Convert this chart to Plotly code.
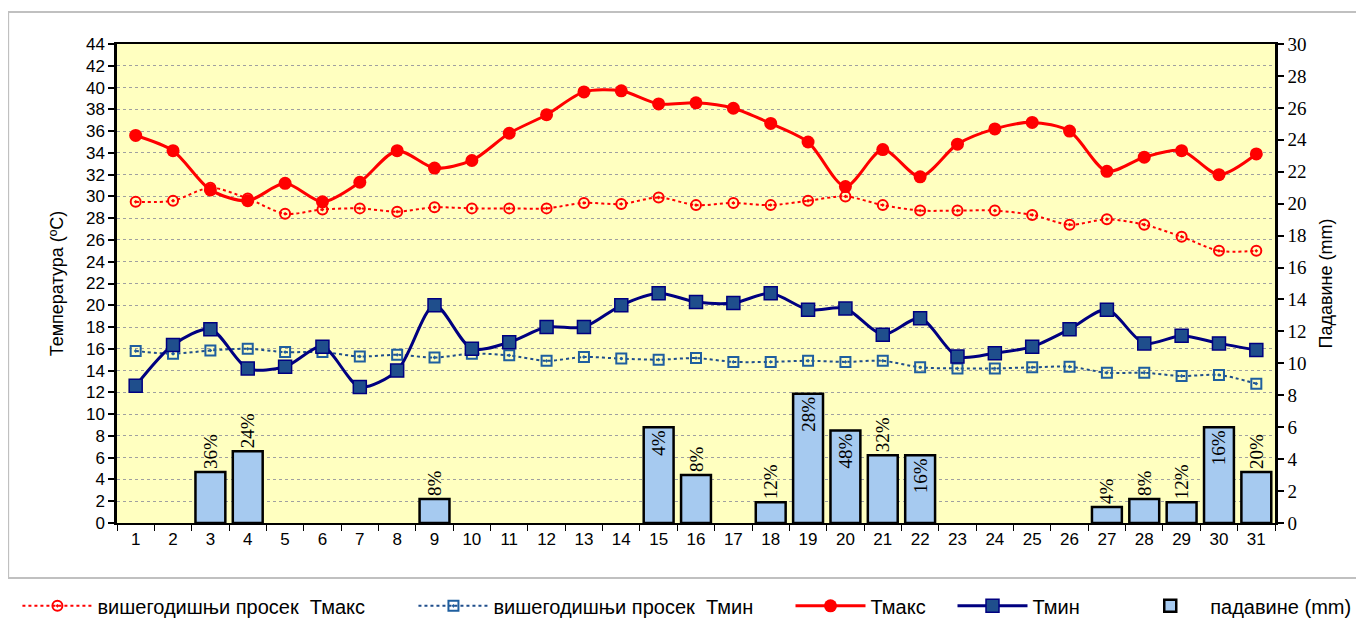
import plotly.graph_objects as go

days = [str(d) for d in range(1, 32)]

tmax = [35.6, 34.2, 30.6, 29.6, 31.2, 29.5, 31.3, 34.2, 32.6, 33.3, 35.8, 37.5, 39.6, 39.7, 38.5, 38.6,
        38.1, 36.7, 35.0, 30.9, 34.3, 31.8, 34.8, 36.2, 36.8, 36.0, 32.3, 33.6, 34.2, 32.0, 33.9]
tmin = [12.6, 16.35, 17.8, 14.2, 14.35, 16.2, 12.5, 14.0, 20.0, 16.0, 16.6, 18.0, 18.0, 20.0, 21.1, 20.3,
        20.2, 21.1, 19.6, 19.7, 17.3, 18.8, 15.3, 15.6, 16.2, 17.8, 19.6, 16.5, 17.2, 16.5, 15.9]
avg_tmax = [29.5, 29.6, 30.8, 29.8, 28.4, 28.8, 28.9, 28.6, 29.0, 28.9, 28.9, 28.9, 29.4, 29.3, 29.9, 29.2,
            29.4, 29.2, 29.6, 30.0, 29.2, 28.7, 28.7, 28.7, 28.3, 27.4, 27.9, 27.4, 26.3, 25.0, 25.0]
avg_tmin = [15.8, 15.55, 15.85, 16.0, 15.7, 15.7, 15.3, 15.45, 15.2, 15.55, 15.4, 14.9, 15.25, 15.1, 15.0, 15.15,
            14.8, 14.8, 14.9, 14.8, 14.9, 14.3, 14.2, 14.2, 14.3, 14.35, 13.8, 13.8, 13.5, 13.6, 12.8]
precip = [0, 0, 3.2, 4.5, 0, 0, 0, 0, 1.5, 0, 0, 0, 0, 0, 6.0, 3.0,
          0, 1.3, 8.1, 5.8, 4.25, 4.25, 0, 0, 0, 0, 1.0, 1.5, 1.3, 6.0, 3.2]
precip_pct = ["", "", "36%", "24%", "", "", "", "", "8%", "", "", "", "", "", "4%", "8%",
              "", "12%", "28%", "48%", "32%", "16%", "", "", "", "", "4%", "8%", "12%", "16%", "20%"]
label_pos = ["none", "none", "outside", "outside", "none", "none", "none", "none", "outside", "none",
             "none", "none", "none", "none", "inside", "outside", "none", "outside", "inside", "inside",
             "outside", "inside", "none", "none", "none", "none", "outside", "outside", "outside", "inside", "outside"]

SANS = "Liberation Sans, Arial, sans-serif"
SERIF = "Liberation Serif, Times New Roman, serif"
LEG_FONT = dict(family=SANS, size=20, color="#000000")

fig = go.Figure()

fig.add_trace(go.Scatter(
    x=days, y=avg_tmax, name="вишегодишњи просек  Тмакс", mode="lines+markers", legend="legend",
    line=dict(color="#FF0000", width=2, dash="dot", shape="spline", smoothing=0.8),
    marker=dict(symbol="circle-open-dot", size=10, color="#FF0000", line=dict(width=2)),
    yaxis="y"))
fig.add_trace(go.Scatter(
    x=days, y=avg_tmin, name="вишегодишњи просек  Тмин", mode="lines+markers", legend="legend2",
    line=dict(color="#1F4E8C", width=2, dash="dot", shape="spline", smoothing=0.8),
    marker=dict(symbol="square-open-dot", size=10, color="#1F5F9F", line=dict(width=2)),
    yaxis="y"))
fig.add_trace(go.Scatter(
    x=days, y=tmax, name="Тмакс", mode="lines+markers", legend="legend3",
    line=dict(color="#FF0000", width=3, shape="spline", smoothing=0.8),
    marker=dict(symbol="circle", size=13, color="#FF0000"),
    yaxis="y"))
fig.add_trace(go.Scatter(
    x=days, y=tmin, name="Тмин", mode="lines+markers", legend="legend4",
    line=dict(color="#000080", width=3, shape="spline", smoothing=0.8),
    marker=dict(symbol="square", size=13, color="#1F4E8C", line=dict(color="#000080", width=1.5)),
    yaxis="y"))
fig.add_trace(go.Bar(
    x=days, y=[v if v > 0 else None for v in precip], name="падавине (mm)", yaxis="y2", width=0.8,
    legend="legend5",
    marker=dict(color="#A6CAF0", line=dict(color="#000000", width=2.5)),
    text=precip_pct, textposition=label_pos, textangle=-90,
    insidetextanchor="end", constraintext="none", cliponaxis=False,
    textfont=dict(family=SERIF, size=19, color="#000000")))


def leg(xp):
    return dict(orientation="h", x=xp, xanchor="left", y=-0.173, yanchor="middle",
                font=LEG_FONT, bgcolor="rgba(0,0,0,0)", itemwidth=70)


# page body has an 8px offset; figure is sized so the plot lands where the reference has it
fig.update_layout(
    width=1356, height=613,
    margin=dict(l=109, r=89, t=36, b=98, autoexpand=False),
    paper_bgcolor="#FFFFFF", plot_bgcolor="#FFFFC0",
    showlegend=True, bargap=0.2,
    font=dict(family=SANS, color="#000000"),
    legend=leg(-0.086), legend2=leg(0.256), legend3=leg(0.5816), legend4=leg(0.7215), legend5=leg(0.875),
    xaxis=dict(type="category", range=[-0.5, 30.5], autorange=False, tickson="boundaries",
               ticks="outside", ticklen=6,
               tickcolor="#000000", showline=True, linecolor="#000000", linewidth=2,
               mirror=True, showgrid=False, tickfont=dict(family=SANS, size=17)),
    yaxis=dict(range=[0, 44], dtick=2, ticks="outside", ticklen=6, tickcolor="#000000", tickwidth=2,
               showline=True, linecolor="#000000", linewidth=2.5, mirror=True,
               showgrid=True, gridcolor="#A0A0A0", gridwidth=1, griddash="dot", zeroline=False,
               tickfont=dict(family=SANS, size=17),
               title=dict(text="Температура (ºC)", font=dict(family=SANS, size=18), standoff=18)),
    yaxis2=dict(range=[0, 30], dtick=2, overlaying="y", side="right", ticks="outside", ticklen=6,
                tickcolor="#000000", tickwidth=2, showline=True, linecolor="#000000", linewidth=2.5,
                showgrid=False, zeroline=False, tickfont=dict(family=SERIF, size=19),
                title=dict(text="Падавине (mm)", font=dict(family=SANS, size=18), standoff=14)),
    shapes=[dict(type="rect", xref="paper", yref="paper", x0=-0.094, x1=1.072, y0=-0.115, y1=1.067,
                 line=dict(color="#C0C0C0", width=2), layer="below")],
)

fig.write_html("out.html")
